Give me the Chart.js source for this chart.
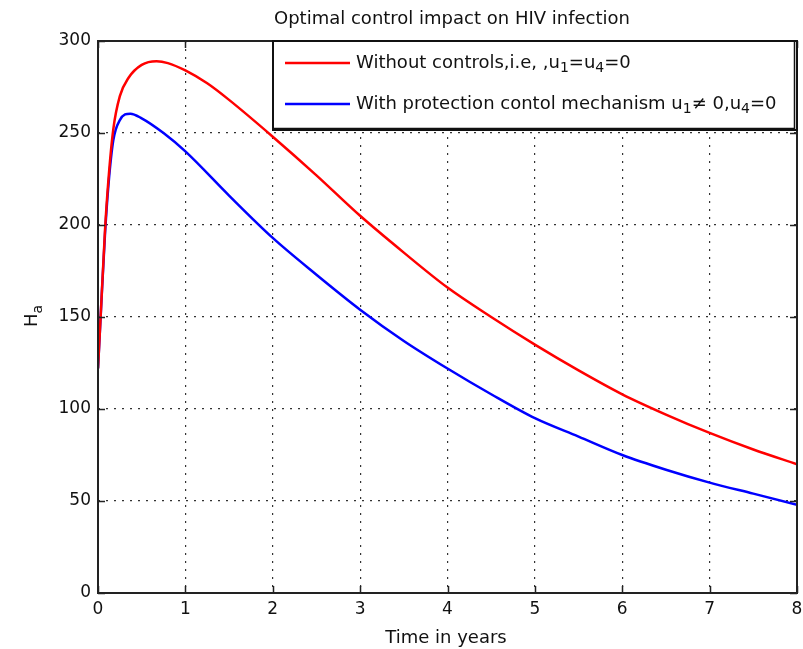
<!DOCTYPE html>
<html>
<head>
<meta charset="utf-8">
<script src="https://cdn.jsdelivr.net/npm/chart.js@4/dist/chart.umd.min.js"></script>
<style>
  html, body { margin: 0; padding: 0; background: #fff; }
  #wrap { width: 803px; height: 649px; }
</style>
</head>
<body>
<div id="wrap"><canvas id="chart" width="803" height="649"></canvas></div>
<script>
// ── Data ────────────────────────────────────────────────
const redT   = [0, 0.03, 0.08, 0.12, 0.175, 0.25, 0.35, 0.5, 0.67, 0.8, 1, 1.25, 1.5, 2, 2.5, 3, 3.5, 4, 4.5, 5, 5.5, 6, 6.5, 7, 7.5, 8];
const redH   = [122, 150, 197, 225, 252, 270, 280, 287, 289, 288, 284, 277, 268, 248, 227, 205, 185, 166, 150, 135, 121, 108, 97, 87, 78, 70];
const blueT  = [0, 0.03, 0.08, 0.12, 0.175, 0.25, 0.37, 0.5, 0.75, 1, 1.5, 2, 2.5, 3, 3.5, 4, 4.5, 5, 5.5, 6, 6.5, 7, 7.5, 8];
const blueH  = [122, 150, 195, 222, 246, 257, 260.5, 258, 250, 240, 216, 193, 173, 154, 137, 122, 108, 95, 85, 75, 67, 60, 54, 48];
const xTicks = [0, 1, 2, 3, 4, 5, 6, 7, 8];
const yTicks = [0, 50, 100, 150, 200, 250, 300];

const FONT = "'DejaVu Sans', Verdana, sans-serif";

// draw text with subscript segments: [[text, isSub], ...]
function drawRich(ctx, parts, x, y, size) {
  let cx = x;
  parts.forEach(([txt, sub]) => {
    const s = sub ? Math.round(size * 0.75) : size;
    ctx.font = `${s}px ${FONT}`;
    ctx.fillText(txt, cx, sub ? y + size * 0.3 : y);
    cx += ctx.measureText(txt).width;
  });
}

const matlabFrame = {
  id: 'matlabFrame',
  afterDraw(chart) {
    const { ctx, chartArea: a, scales } = chart;
    ctx.save();
    ctx.strokeStyle = '#222';
    ctx.lineWidth = 1.5;
    // inward ticks top/bottom, left/right
    xTicks.forEach(v => {
      const px = Math.round(scales.x.getPixelForValue(v)) + 0.5;
      ctx.beginPath();
      ctx.moveTo(px, a.bottom); ctx.lineTo(px, a.bottom - 7);
      ctx.moveTo(px, a.top); ctx.lineTo(px, a.top + 7);
      ctx.stroke();
    });
    yTicks.forEach(v => {
      const py = Math.round(scales.y.getPixelForValue(v)) + 0.5;
      ctx.beginPath();
      ctx.moveTo(a.left, py); ctx.lineTo(a.left + 7, py);
      ctx.moveTo(a.right, py); ctx.lineTo(a.right - 7, py);
      ctx.stroke();
    });
    // axes box
    ctx.lineWidth = 2;
    ctx.strokeRect(a.left, a.top, a.right - a.left, a.bottom - a.top);

    // title
    ctx.fillStyle = '#111';
    ctx.textBaseline = 'alphabetic';
    ctx.textAlign = 'center';
    ctx.font = `18px ${FONT}`;
    ctx.fillText('Optimal control impact on HIV infection', 452, 24);

    // x label
    ctx.font = `18px ${FONT}`;
    ctx.fillText('Time in years', 446, 643);

    // y label H_a (rotated)
    ctx.save();
    ctx.translate(37, (a.top + a.bottom) / 2);
    ctx.rotate(-Math.PI / 2);
    ctx.textAlign = 'left';
    drawRich(ctx, [['H', false], ['a', true]], -10, 0, 18);
    ctx.restore();

    // legend box
    const lx = 273, ly = a.top, lw = a.right - lx, lh = 89;
    ctx.fillStyle = '#fff';
    ctx.fillRect(lx, ly, lw, lh);
    ctx.strokeStyle = '#111';
    ctx.lineWidth = 2;
    ctx.strokeRect(lx, ly, lw, lh);
    ctx.lineWidth = 1.5;
    ctx.beginPath();
    ctx.moveTo(lx + lw - 2.5, ly); ctx.lineTo(lx + lw - 2.5, ly + lh - 1.5); ctx.lineTo(lx, ly + lh - 1.5);
    ctx.stroke();
    const entries = [
      { color: '#ff0000', y: ly + 22, parts: [['Without controls,i.e, ,u', false], ['1', true], ['=u', false], ['4', true], ['=0', false]] },
      { color: '#0000ff', y: ly + 63, parts: [['With protection contol mechanism u', false], ['1', true], ['\u2260 0,u', false], ['4', true], ['=0', false]] }
    ];
    entries.forEach(e => {
      ctx.strokeStyle = e.color;
      ctx.lineWidth = 2.5;
      ctx.beginPath();
      ctx.moveTo(lx + 12, e.y); ctx.lineTo(lx + 77, e.y);
      ctx.stroke();
      ctx.fillStyle = '#111';
      ctx.textAlign = 'left';
      ctx.textBaseline = 'middle';
      drawRich(ctx, e.parts, lx + 83, e.y, 18);
    });
    ctx.restore();
  }
};

const pts = (t, h) => t.map((v, i) => ({ x: v, y: h[i] }));

new Chart(document.getElementById('chart'), {
  type: 'line',
  data: {
    datasets: [
      { label: 'Without controls', data: pts(redT, redH), borderColor: '#ff0000', borderWidth: 2.5,
        pointRadius: 0, cubicInterpolationMode: 'monotone', fill: false },
      { label: 'With protection', data: pts(blueT, blueH), borderColor: '#0000ff', borderWidth: 2.5,
        pointRadius: 0, cubicInterpolationMode: 'monotone', fill: false }
    ]
  },
  options: {
    responsive: false,
    animation: false,
    layout: { padding: { top: 41, right: 6, left: 0, bottom: 0 } },
    plugins: { legend: { display: false }, title: { display: false }, tooltip: { enabled: false } },
    scales: {
      x: {
        type: 'linear', min: 0, max: 8,
        afterFit: s => { s.height = 56; s.paddingLeft = 0; s.paddingRight = 0; },
        afterBuildTicks: s => { s.ticks = xTicks.map(v => ({ value: v })); },
        grid: { color: '#333', lineWidth: 1.2, drawTicks: false },
        border: { display: false, dash: [2, 6] },
        ticks: { color: '#111', padding: 6, font: { family: FONT, size: 17 } }
      },
      y: {
        type: 'linear', min: 0, max: 300,
        afterFit: s => { s.width = 98; s.paddingTop = 0; s.paddingBottom = 0; },
        afterBuildTicks: s => { s.ticks = yTicks.map(v => ({ value: v })); },
        grid: { color: '#333', lineWidth: 1.2, drawTicks: false },
        border: { display: false, dash: [2, 6] },
        ticks: { color: '#111', padding: 7, font: { family: FONT, size: 17 } }
      }
    }
  },
  plugins: [matlabFrame]
});
</script>
</body>
</html>
